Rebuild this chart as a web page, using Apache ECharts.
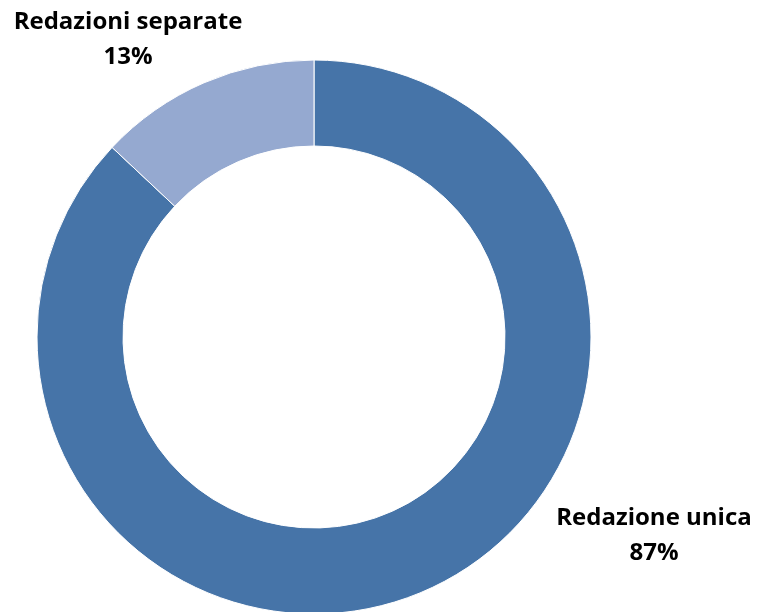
<!DOCTYPE html>
<html>
<head>
<meta charset="utf-8">
<script src="https://cdn.jsdelivr.net/npm/echarts@6/dist/echarts.min.js"></script>
<style>html,body{margin:0;padding:0;background:#fff;}#c{width:758px;height:612px;}</style>
</head>
<body>
<div id="c"></div>
<script>
var categories = ["Redazione unica", "Redazioni separate"];
var values = [87, 13];
var colors = ["#4674A8", "#95A9D0"];
var labelSpots = [[654, 536], [128, 40]];

var chart = echarts.init(document.getElementById('c'));
chart.setOption({
  animation: false,
  series: [{
    type: 'pie',
    center: [314, 337],
    radius: [191, 277],
    startAngle: 90,
    clockwise: true,
    data: categories.map(function (c, i) {
      return { name: c, value: values[i], itemStyle: { color: colors[i] } };
    }),
    itemStyle: { borderColor: '#ffffff', borderWidth: 1 },
    label: {
      show: true,
      position: 'outside',
      alignTo: 'none',
      overflow: 'none',
      formatter: function (p) { return p.name + '\n' + p.value + '%'; },
      fontFamily: 'Open Sans',
      fontWeight: 'bold',
      fontSize: 24,
      lineHeight: 35,
      color: '#000',
      align: 'center'
    },
    labelLine: { show: false },
    labelLayout: function (p) {
      var s = labelSpots[p.dataIndex];
      return { x: s[0], y: s[1], align: 'center', verticalAlign: 'middle', width: 400 };
    }
  }]
});
</script>
</body>
</html>
